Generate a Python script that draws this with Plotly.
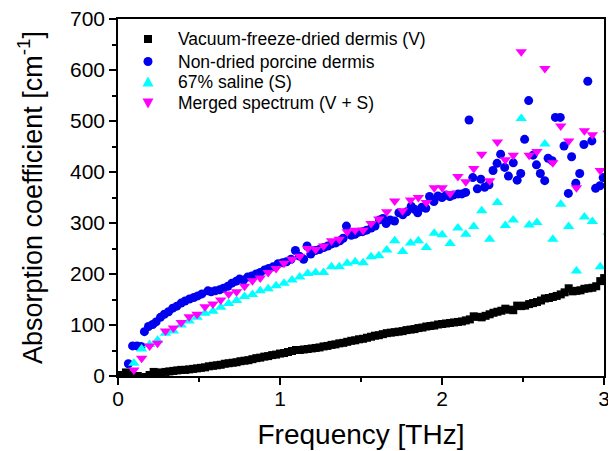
import plotly.graph_objects as go

# ---- data ----
freq_V = [0.024, 0.049, 0.073, 0.098, 0.122, 0.146, 0.171, 0.195, 0.220, 0.244,
          0.268, 0.293, 0.317, 0.342, 0.366, 0.390, 0.415, 0.439, 0.464, 0.488,
          0.512, 0.537, 0.561, 0.586, 0.610, 0.634, 0.659, 0.683, 0.708, 0.732,
          0.756, 0.781, 0.805, 0.830, 0.854, 0.878, 0.903, 0.927, 0.952, 0.976,
          1.000, 1.025, 1.049, 1.074, 1.098, 1.122, 1.147, 1.171, 1.196, 1.220,
          1.244, 1.269, 1.293, 1.318, 1.342, 1.366, 1.391, 1.415, 1.440, 1.464,
          1.488, 1.513, 1.537, 1.562, 1.586, 1.610, 1.635, 1.659, 1.684, 1.708,
          1.732, 1.757, 1.781, 1.806, 1.830, 1.854, 1.879, 1.903, 1.928, 1.952,
          1.976, 2.001, 2.025, 2.050, 2.074, 2.098, 2.123, 2.147, 2.172, 2.196,
          2.220, 2.245, 2.269, 2.294, 2.318, 2.342, 2.367, 2.391, 2.416, 2.440,
          2.464, 2.489, 2.513, 2.538, 2.562, 2.586, 2.611, 2.635, 2.660, 2.684,
          2.708, 2.733, 2.757, 2.782, 2.806, 2.830, 2.855, 2.879, 2.904, 2.928,
          2.952, 2.977, 3.001]
alpha_V = [2, 7, 3, 0, 0, -3, -2, 2, 8, 7,
           6, 8, 9, 10, 11, 12, 12, 13, 14, 15,
           16, 17, 19, 20, 21, 22, 24, 25, 26, 27,
           29, 30, 31, 33, 35, 36, 38, 39, 41, 42,
           44, 45, 47, 49, 51, 51, 52, 53, 54, 55,
           56, 58, 59, 61, 62, 64, 65, 67, 69, 70,
           72, 73, 75, 77, 79, 80, 82, 84, 85, 86,
           87, 88, 90, 91, 92, 94, 95, 97, 98, 99,
           101, 102, 103, 104, 105, 106, 107, 109, 111, 117,
           116, 115, 118, 121, 124, 126, 128, 132, 130, 129,
           138, 137, 138, 141, 143, 145, 148, 152, 153, 155,
           157, 160, 164, 172, 166, 167, 168, 171, 172, 173,
           176, 186, 192]

freq_N = [0.064, 0.090, 0.117, 0.142, 0.163, 0.188, 0.214, 0.235, 0.262, 0.286,
          0.312, 0.338, 0.363, 0.390, 0.414, 0.441, 0.468, 0.492, 0.518, 0.555,
          0.575, 0.600, 0.627, 0.651, 0.678, 0.703, 0.730, 0.750, 0.775, 0.800,
          0.826, 0.853, 0.878, 0.905, 0.930, 0.957, 0.988, 1.016, 1.040, 1.068,
          1.095, 1.120, 1.146, 1.167, 1.190, 1.218, 1.243, 1.270, 1.295, 1.320,
          1.345, 1.370, 1.390, 1.410, 1.440, 1.463, 1.486, 1.510, 1.535, 1.563,
          1.587, 1.614, 1.635, 1.655, 1.680, 1.707, 1.734, 1.758, 1.783, 1.810,
          1.830, 1.850, 1.876, 1.900, 1.923, 1.950, 1.975, 2.000, 2.026, 2.048,
          2.070, 2.100, 2.123, 2.146, 2.167, 2.190, 2.218, 2.240, 2.263, 2.290,
          2.315, 2.340, 2.362, 2.387, 2.410, 2.440, 2.464, 2.486, 2.510, 2.535,
          2.562, 2.583, 2.607, 2.634, 2.655, 2.680, 2.700, 2.730, 2.753, 2.780,
          2.800, 2.826, 2.850, 2.876, 2.900, 2.925, 2.948, 2.975, 2.995]
alpha_N = [24, 59, 59, 58, 87, 97, 101, 106, 115, 121,
           126, 133, 137, 143, 147, 151, 154, 157, 161, 167,
           165, 167, 169, 172, 176, 182, 186, 190, 188, 194,
           196, 200, 203, 208, 211, 214, 220, 222, 224, 229,
           246, 235, 229, 255, 239, 246, 248, 252, 255, 259,
           261, 265, 270, 294, 276, 278, 282, 283, 286, 290,
           294, 306, 309, 299, 306, 304, 320, 316, 322, 333,
           327, 320, 331, 329, 352, 342, 353, 350, 355, 352,
           355, 357, 357, 360, 502, 389, 367, 386, 370, 375,
           403, 417, 435, 409, 392, 418, 384, 397, 464, 540,
           433, 414, 397, 383, 427, 422, 507, 507, 451, 358,
           430, 378, 397, 454, 578, 461, 368, 373, 389]

freq_S = [0.098, 0.146, 0.195, 0.244, 0.293, 0.342, 0.390, 0.439, 0.488, 0.537,
          0.586, 0.634, 0.683, 0.732, 0.781, 0.830, 0.878, 0.927, 0.976, 1.025,
          1.074, 1.122, 1.171, 1.220, 1.269, 1.318, 1.366, 1.415, 1.464, 1.513,
          1.562, 1.610, 1.659, 1.708, 1.757, 1.806, 1.854, 1.903, 1.952, 2.001,
          2.050, 2.098, 2.147, 2.196, 2.245, 2.294, 2.342, 2.391, 2.440, 2.489,
          2.538, 2.586, 2.635, 2.684, 2.733, 2.782, 2.830, 2.879, 2.928, 2.977,
          3.026]
alpha_S = [25, 53, 62, 70, 84, 88, 100, 108, 115, 123,
           127, 135, 142, 148, 156, 160, 167, 171, 177, 182,
           188, 194, 201, 203, 203, 214, 214, 221, 224, 222,
           234, 236, 247, 265, 244, 261, 265, 252, 280, 277,
           260, 290, 278, 293, 324, 268, 340, 295, 306, 505,
           296, 301, 455, 268, 337, 293, 206, 312, 303, 214,
           282]

freq_M = freq_S
alpha_M = [12, 35, 59, 64, 88, 94, 105, 116, 121, 136,
           141, 149, 161, 165, 176, 187, 192, 203, 211, 221,
           229, 235, 250, 248, 255, 265, 268, 283, 286, 286,
           299, 308, 322, 343, 324, 345, 350, 340, 369, 369,
           358, 391, 381, 407, 435, 383, 459, 424, 433, 636,
           433, 440, 603, 418, 490, 461, 369, 481, 473, 403,
           476]

names = ["Vacuum-freeze-dried dermis (V)", "Non-dried porcine dermis",
         "67% saline (S)", "Merged spectrum (V + S)"]
colors = ["black", "#0000ee", "#00ffff", "#ff00ff"]
symbols = ["square", "circle", "triangle-up", "triangle-down"]
sizes = [8, 9, 10, 10]

FONT = "Liberation Sans, Arial, sans-serif"
# the page body adds an 8 px offset, so the figure is 8 px smaller
OFF = 8
W, H = 616 - OFF, 451 - OFF
ML, MR, MT, MB = 118 - OFF, 12, 19 - OFF, 75
PW, PH = W - ML - MR, H - MT - MB

fig = go.Figure()
series = [(freq_V, alpha_V), (freq_N, alpha_N), (freq_S, alpha_S), (freq_M, alpha_M)]
for (fx, fy), nm, c, s, sz in zip(series, names, colors, symbols, sizes):
    fig.add_trace(go.Scatter(x=fx, y=fy, mode="markers", name=nm, showlegend=False,
                             marker=dict(symbol=s, size=sz, color=c, line=dict(width=0))))

# ---- legend drawn as shapes (pixel-sized symbols) + text annotations ----
leg_sym_px = 148 - OFF
leg_txt_px = 176 - OFF
leg_rows_px = [39 - OFF, 61.5 - OFF, 82 - OFF, 103 - OFF]
shapes = []
annotations = []
for i, (nm, c) in enumerate(zip(names, colors)):
    xa = (leg_sym_px - ML) / PW
    ya = (H - MB - leg_rows_px[i]) / PH
    common = dict(xref="paper", yref="paper", xsizemode="pixel", ysizemode="pixel",
                  xanchor=xa, yanchor=ya, fillcolor=c, line=dict(width=0), layer="above")
    if i == 0:
        shapes.append(dict(type="rect", x0=-4, x1=4, y0=-4, y1=4, **common))
    elif i == 1:
        shapes.append(dict(type="circle", x0=-4.5, x1=4.5, y0=-4.5, y1=4.5, **common))
    elif i == 2:
        shapes.append(dict(type="path", path="M -5.5,-4.5 L 5.5,-4.5 L 0,5.5 Z", **common))
    else:
        shapes.append(dict(type="path", path="M -5.5,4.5 L 5.5,4.5 L 0,-5.5 Z", **common))
    annotations.append(dict(text=nm, xref="paper", yref="paper",
                            x=(leg_txt_px - ML) / PW, y=ya, xanchor="left", yanchor="middle",
                            showarrow=False, font=dict(size=17.5, family=FONT, color="black")))

fig.update_layout(
    width=W, height=H,
    margin=dict(l=ML, r=MR, t=MT, b=MB, autoexpand=False),
    paper_bgcolor="white", plot_bgcolor="white",
    font=dict(family=FONT, color="black"),
    showlegend=False,
    shapes=shapes, annotations=annotations,
)
fig.update_xaxes(
    range=[0, 3], tickvals=[0, 1, 2, 3], ticktext=["0", "1", "2", "3"],
    ticks="outside", ticklen=7, tickwidth=1.5, tickcolor="black",
    minor=dict(tickvals=[0.5, 1.5, 2.5], ticks="outside", ticklen=4, tickwidth=1.5, tickcolor="black"),
    showline=True, linecolor="black", linewidth=1.5, mirror=True,
    showgrid=False, zeroline=False, automargin=False,
    tickfont=dict(size=21, family=FONT), ticklabelstandoff=-4, ticklabeloverflow="allow",
    title=dict(text="Frequency [THz]", font=dict(size=28, family=FONT), standoff=15),
)
fig.update_yaxes(
    range=[0, 700], tickvals=[0, 100, 200, 300, 400, 500, 600, 700],
    ticks="outside", ticklen=7, tickwidth=1.5, tickcolor="black",
    minor=dict(tickvals=[50, 150, 250, 350, 450, 550, 650], ticks="outside", ticklen=4, tickwidth=1.5, tickcolor="black"),
    showline=True, linecolor="black", linewidth=1.5, mirror=True,
    showgrid=False, zeroline=False, automargin=False,
    tickfont=dict(size=21, family=FONT), ticklabeloverflow="allow",
    title=dict(text="Absorption coefficient [cm<sup>-1</sup>]", font=dict(size=27, family=FONT), standoff=20),
)

fig.write_html("out.html")
